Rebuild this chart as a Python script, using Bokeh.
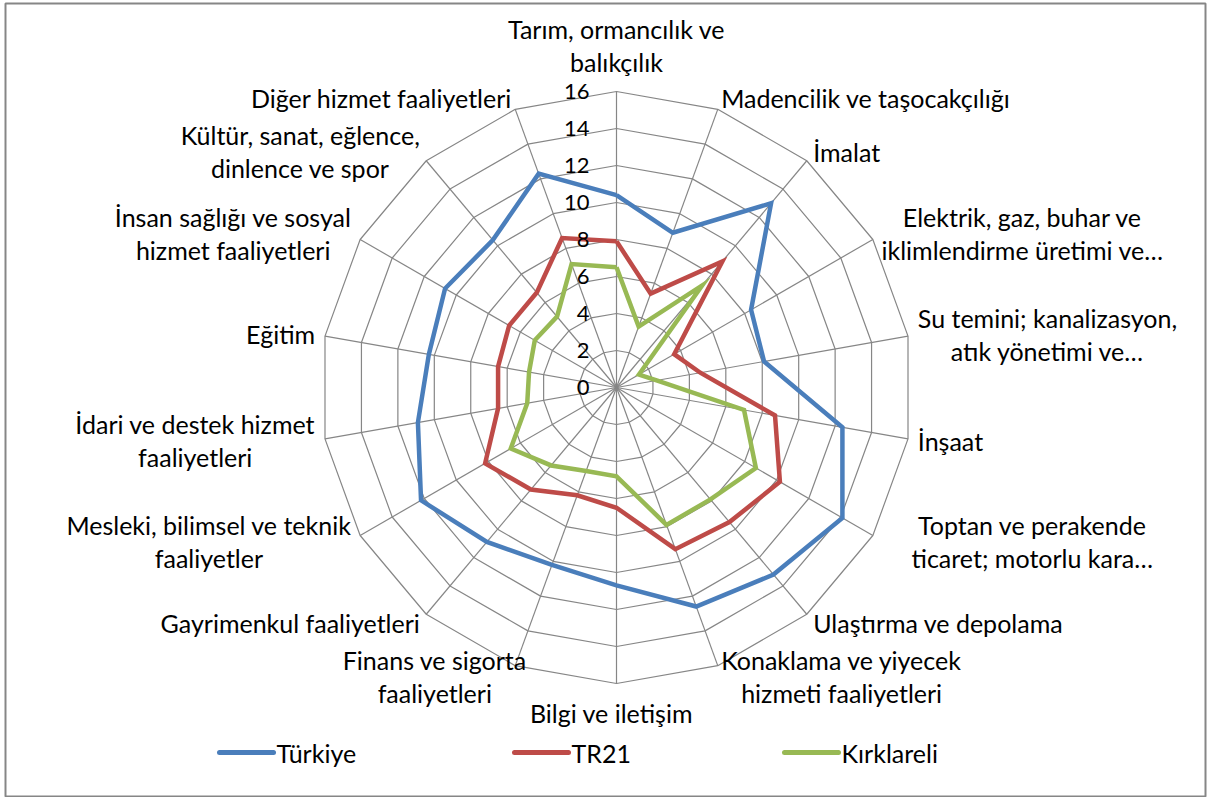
import math
from bokeh.plotting import figure
from bokeh.models import Range1d
from bokeh.core.properties import value
from bokeh.embed import file_html
from bokeh.resources import INLINE

# ---------------- data ----------------
categories = [
    "Tarım, ormancılık ve\nbalıkçılık",
    "Madencilik ve taşocakçılığı",
    "İmalat",
    "Elektrik, gaz, buhar ve\niklimlendirme üretimi ve…",
    "Su temini; kanalizasyon,\natık yönetimi ve…",
    "İnşaat",
    "Toptan ve perakende\nticaret; motorlu kara…",
    "Ulaştırma ve depolama",
    "Konaklama ve yiyecek\nhizmeti faaliyetleri",
    "Bilgi ve iletişim",
    "Finans ve sigorta\nfaaliyetleri",
    "Gayrimenkul faaliyetleri",
    "Mesleki, bilimsel ve teknik\nfaaliyetler",
    "İdari ve destek hizmet\nfaaliyetleri",
    "Eğitim",
    "İnsan sağlığı ve sosyal\nhizmet faaliyetleri",
    "Kültür, sanat, eğlence,\ndinlence ve spor",
    "Diğer hizmet faaliyetleri",
]
turkiye = [10.4, 8.9, 13.0, 8.4, 8.1, 12.4, 14.1, 13.2, 12.6, 10.7, 10.2, 10.9, 12.2, 10.9, 10.3, 10.7, 10.4, 12.3]
tr21 = [7.9, 5.4, 8.9, 3.6, 4.6, 8.7, 10.2, 9.5, 9.3, 6.5, 6.2, 7.2, 8.2, 6.5, 6.5, 6.7, 6.7, 8.6]
kirklareli = [6.5, 3.5, 7.2, 1.4, 2.2, 7.0, 8.7, 7.9, 7.9, 4.8, 4.8, 5.5, 6.6, 4.9, 4.8, 5.1, 5.0, 7.1]
series_names = ["Türkiye", "TR21", "Kırklareli"]
ticks = [0, 2, 4, 6, 8, 10, 12, 14, 16]

# ---------------- styles ----------------
colors = ["#4A7EBB", "#BE4B48", "#98B954"]
grid_color = "#868686"
FONT = "Lato"
FS = "25px"
TICK_FS = "22px"
# small horizontal nudges of some category labels (px), by category index
label_nudge = {6: 30, 10: 15}

W, H = 1207, 797


def py(Y):
    """page-y (from top) to data-y"""
    return H - Y


CX, CY = 616, py(387)      # centre of radar
RMAX = 16
K = 296 / RMAX             # pixels per unit

p = figure(width=W, height=H, x_range=Range1d(0, W), y_range=Range1d(0, H),
           output_backend="svg", toolbar_location=None, min_border=0)
p.axis.visible = False
p.grid.visible = False
p.outline_line_color = None
p.background_fill_color = "white"

# chart border
p.quad(left=[5], right=[1205], top=[py(3)], bottom=[py(796)], fill_alpha=0,
       line_color="#868686", line_width=2)

n = len(categories)
angles = [2 * math.pi * i / n for i in range(n)]


def pt(v, a):
    return CX + v * K * math.sin(a), CY + v * K * math.cos(a)


# rings
for t in ticks[1:]:
    xs = [pt(t, a)[0] for a in angles] + [pt(t, angles[0])[0]]
    ys = [pt(t, a)[1] for a in angles] + [pt(t, angles[0])[1]]
    p.line(xs, ys, line_color=grid_color, line_width=1.2)

# spokes
p.segment(x0=[CX] * n, y0=[CY] * n,
          x1=[pt(RMAX, a)[0] for a in angles], y1=[pt(RMAX, a)[1] for a in angles],
          line_color=grid_color, line_width=1.2)

# series
for vals, col in zip([turkiye, tr21, kirklareli], colors):
    xs = [pt(v, a)[0] for v, a in zip(vals, angles)]
    ys = [pt(v, a)[1] for v, a in zip(vals, angles)]
    xs.append(xs[0]); ys.append(ys[0])
    p.line(xs, ys, line_color=col, line_width=4.5, line_join="miter")

# tick labels
p.text(x=[CX - 27] * len(ticks), y=[CY + t * K for t in ticks], text=[str(t) for t in ticks],
       text_font=value(FONT), text_font_size=TICK_FS, text_align="right", text_baseline="middle",
       text_color="black")

# category labels
for i, (lab, a) in enumerate(zip(categories, angles)):
    s, c = math.sin(a), math.cos(a)
    ex, ey = pt(RMAX, a)
    if abs(s) < 0.1:
        if c > 0:
            anc, x, y = "bottom_center", ex, ey + 15
        else:
            anc, x, y = "top_center", ex - 5, ey - 14
    elif s > 0:
        anc, x, y = "center_left", ex + 10 * s, ey + 12 * c
    else:
        anc, x, y = "center_right", ex - 10 * abs(s), ey + 12 * c
    x += label_nudge.get(i, 0)
    p.text(x=[x], y=[y], text=[lab], anchor=value(anc), text_align="center",
           text_font=value(FONT), text_font_size=FS, text_line_height=1.1,
           text_color="black")

# legend
leg_y = py(752)
leg_x = [219, 514, 784]
for name, col, lx in zip(series_names, colors, leg_x):
    p.segment(x0=[lx], y0=[leg_y], x1=[lx + 54], y1=[leg_y], line_color=col,
              line_width=5, line_cap="round")
    p.text(x=[lx + 57], y=[leg_y], text=[name], text_font=value(FONT), text_font_size=FS,
           text_align="left", text_baseline="middle", text_color="black")

open("out.html", "w").write(file_html(p, INLINE))
